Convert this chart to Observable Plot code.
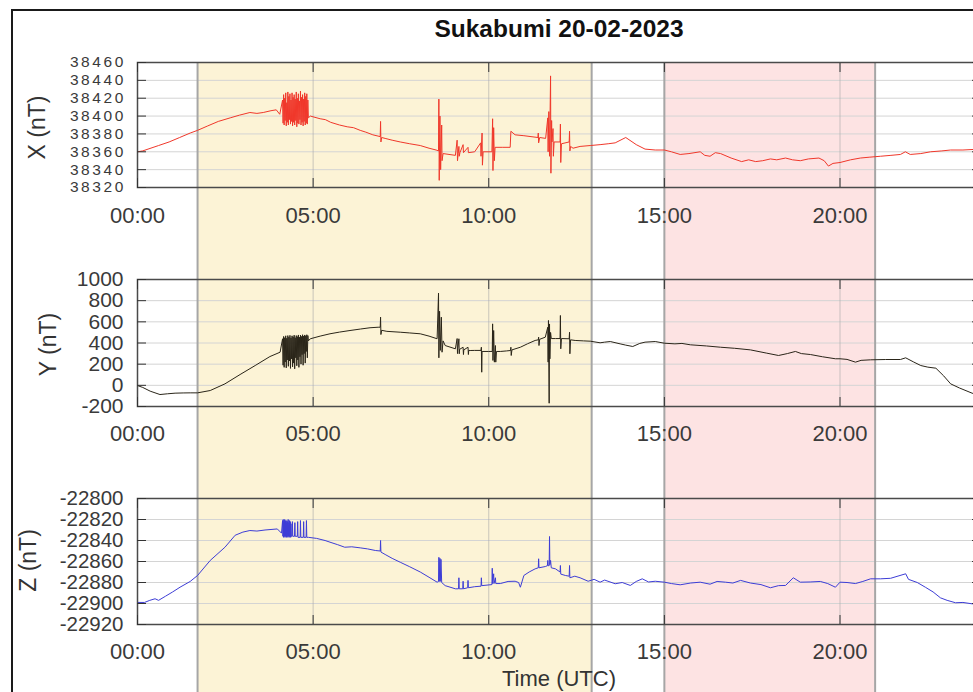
<!DOCTYPE html>
<html><head><meta charset="utf-8">
<script src="https://cdn.jsdelivr.net/npm/d3@7"></script>
<script src="https://cdn.jsdelivr.net/npm/@observablehq/plot@0.6"></script>
<style>
html,body{margin:0;padding:0;background:#fff;}
#wrap{position:relative;width:973px;height:692px;overflow:hidden;background:#fff;}
#wrap svg{display:block;max-width:none;}
#p0 [aria-label="y-axis tick label"] text{letter-spacing:2.6px;}
#border{position:absolute;left:11px;top:9px;right:-20px;bottom:-20px;border-left:2px solid #1a1a1a;border-top:2px solid #1a1a1a;pointer-events:none;z-index:5;}
</style></head><body>
<div id="wrap"><div id="border"></div></div>
<script>
const TITLE = "Sukabumi 20-02-2023";
const X_AXIS_LABEL = "Time (UTC)";
const TIME_TICKS = [0, 5, 10, 15, 20];
const X_TICKS = [38320, 38340, 38360, 38380, 38400, 38420, 38440, 38460];
const Y_TICKS = [-200, 0, 200, 400, 600, 800, 1000];
const Z_TICKS = [-22920, -22900, -22880, -22860, -22840, -22820, -22800];
const SHADES = [
  {start: 1.71, end: 12.93, fill: "#fcf3d6"},
  {start: 15.0, end: 21.0, fill: "#fde3e3"}
];

// [hour UTC, nT]
const X_FIELD = [[0,38360],[0.15,38361],[0.3,38363],[0.6,38367],[0.9,38371],[1.2,38376],[1.5,38381],[1.71,38384],[2.0,38389],[2.3,38394],[2.64,38398],[2.9,38401],[3.2,38404],[3.4,38403],[3.58,38404],[3.8,38406],[3.95,38407],[4.05,38402],
[4.13,38418],[4.145,38392],[4.16,38424],[4.175,38390],[4.19,38420],[4.205,38395],[4.22,38426],[4.235,38389],[4.25,38415],[4.265,38393],[4.28,38427],[4.295,38390],[4.31,38422],[4.325,38396],[4.34,38425],[4.355,38391],[4.37,38418],[4.385,38394],[4.40,38426],[4.415,38389],[4.43,38421],[4.445,38393],[4.46,38424],[4.475,38390],[4.49,38419],[4.505,38395],[4.52,38427],[4.535,38388],[4.55,38420],[4.565,38392],[4.58,38425],[4.595,38391],[4.61,38417],[4.625,38396],[4.64,38428],[4.655,38390],[4.67,38421],[4.685,38393],[4.70,38424],[4.715,38389],[4.73,38419],[4.745,38394],[4.76,38426],[4.775,38390],[4.79,38422],[4.805,38392],[4.82,38425],[4.835,38391],[4.85,38418],[4.865,38398],
[4.92,38400],[5.2,38397],[5.35,38396],[5.5,38393],[5.75,38390],[5.97,38388],[6.15,38387],[6.34,38384],[6.5,38382],[6.7,38379],[6.91,38377],[6.92,38394],[6.93,38371],[6.95,38376],[7.05,38375],[7.25,38373],[7.48,38371],[7.75,38369],[8.05,38367],[8.3,38364],[8.5,38362],[8.57,38361],[8.58,38419],[8.59,38328],[8.61,38400],[8.63,38340],[8.66,38390],[8.67,38350],[8.7,38358],[9.05,38356],[9.10,38373],[9.11,38350],[9.13,38358],[9.15,38366],[9.16,38355],[9.18,38359],[9.27,38368],[9.28,38359],[9.41,38365],[9.42,38359],[9.6,38360],[9.77,38370],[9.78,38355],[9.81,38381],[9.82,38345],[9.84,38360],[10.09,38360],[10.11,38397],[10.12,38339],[10.14,38387],[10.16,38350],[10.18,38365],[10.4,38365],[10.61,38365],[10.63,38383],[10.75,38379],[11.0,38378],[11.4,38376],[11.41,38381],[11.42,38370],[11.45,38376],[11.62,38375],[11.68,38398],[11.69,38360],[11.71,38405],[11.73,38355],[11.76,38445],[11.77,38336],[11.79,38395],[11.8,38371],[11.83,38386],[11.84,38355],[11.86,38371],[12.03,38371],[12.04,38391],[12.05,38348],[12.07,38369],[12.29,38371],[12.30,38383],[12.31,38361],[12.33,38366],[12.4,38364],[12.6,38366],[12.89,38367],[13.17,38368],[13.4,38369],[13.6,38370],[13.9,38376],[14.05,38372],[14.2,38368],[14.45,38363],[14.74,38362],[15.0,38362],[15.2,38360],[15.45,38357],[15.7,38358],[16.02,38360],[16.15,38356],[16.3,38355],[16.45,38359],[16.6,38358],[16.9,38353],[17.2,38349],[17.4,38351],[17.6,38349],[17.8,38350],[18.02,38352],[18.2,38351],[18.45,38353],[18.65,38351],[18.87,38350],[19.1,38352],[19.4,38353],[19.55,38350],[19.67,38344],[19.8,38347],[20.0,38348],[20.3,38351],[20.58,38353],[20.85,38354],[21.15,38355],[21.45,38356],[21.72,38357],[21.86,38360],[22.0,38357],[22.3,38358],[22.58,38360],[22.9,38361],[23.15,38362],[23.5,38362],[24,38363]];

const Y_FIELD = [[0,-2],[0.15,-20],[0.36,-55],[0.64,-87],[0.85,-80],[1.07,-74],[1.3,-72],[1.5,-71],[1.71,-71],[2.07,-49],[2.49,14],[2.92,102],[3.35,187],[3.77,272],[4.06,313],
[4.13,440],[4.145,190],[4.16,462],[4.175,170],[4.19,450],[4.205,220],[4.22,468],[4.235,165],[4.25,445],[4.265,240],[4.28,470],[4.295,180],[4.31,455],[4.325,230],[4.34,472],[4.355,160],[4.37,448],[4.385,250],[4.40,468],[4.415,175],[4.43,458],[4.445,210],[4.46,474],[4.475,156],[4.49,450],[4.505,260],[4.52,470],[4.535,185],[4.55,460],[4.565,240],[4.58,476],[4.595,170],[4.61,455],[4.625,270],[4.64,475],[4.655,200],[4.67,462],[4.685,290],[4.70,478],[4.715,190],[4.73,465],[4.745,300],[4.76,476],[4.775,210],[4.79,468],[4.805,320],[4.82,478],[4.835,260],[4.85,470],[4.865,420],
[4.92,440],[5.2,465],[5.48,487],[5.75,503],[6.05,518],[6.35,532],[6.62,544],[6.85,549],[6.91,549],[6.92,644],[6.93,480],[6.95,520],[7.1,510],[7.48,502],[7.75,495],[8.05,487],[8.3,465],[8.53,440],[8.57,871],[8.58,260],[8.6,700],[8.62,330],[8.65,644],[8.67,313],[8.7,420],[8.76,376],[9.05,345],[9.10,442],[9.11,300],[9.12,345],[9.15,440],[9.16,298],[9.17,340],[9.27,360],[9.28,291],[9.29,335],[9.41,360],[9.42,291],[9.43,330],[9.47,329],[9.6,330],[9.78,330],[9.79,360],[9.80,124],[9.81,320],[10.0,320],[10.10,320],[10.11,581],[10.12,235],[10.14,518],[10.16,219],[10.19,376],[10.2,219],[10.22,320],[10.33,320],[10.5,325],[10.62,329],[10.63,360],[10.64,282],[10.66,335],[10.9,360],[11.1,392],[11.32,424],[11.41,430],[11.42,455],[11.43,376],[11.45,435],[11.61,455],[11.68,549],[11.69,219],[11.70,613],[11.72,-169],[11.73,580],[11.74,250],[11.76,500],[11.78,442],[11.9,442],[12.03,442],[12.04,660],[12.05,345],[12.07,442],[12.29,440],[12.30,502],[12.31,298],[12.33,430],[12.46,424],[12.7,420],[12.89,417],[13.17,402],[13.3,408],[13.46,414],[13.74,392],[13.9,380],[14.1,367],[14.3,396],[14.45,408],[14.74,414],[15.0,398],[15.3,392],[15.5,396],[15.74,383],[16.2,372],[16.6,360],[17.0,350],[17.45,335],[17.9,305],[18.25,282],[18.5,300],[18.73,320],[18.9,300],[19.16,291],[19.5,270],[19.87,251],[20.0,251],[20.2,245],[20.44,219],[20.6,236],[20.87,241],[21.3,244],[21.72,244],[21.87,260],[22.1,220],[22.3,187],[22.5,172],[22.73,162],[22.95,90],[23.15,14],[23.4,-25],[23.76,-74],[24,-100]];

const Z_FIELD = [[0,-22899],[0.2,-22899],[0.35,-22897],[0.5,-22895.5],[0.6,-22897],[0.8,-22893],[1.0,-22889],[1.21,-22884.5],[1.5,-22879],[1.71,-22873.3],[2.07,-22859],[2.49,-22846.4],[2.78,-22835],[3.0,-22832],[3.2,-22830.5],[3.4,-22831],[3.63,-22830],[3.98,-22829],[4.1,-22833],
[4.13,-22821],[4.14,-22836],[4.15,-22820],[4.16,-22837],[4.17,-22822],[4.18,-22836],[4.19,-22820],[4.20,-22837],[4.21,-22821],[4.22,-22836],[4.23,-22823],[4.24,-22837],[4.25,-22821],[4.26,-22836],[4.27,-22822],[4.28,-22837],[4.29,-22820],[4.30,-22836],[4.31,-22823],[4.32,-22837],[4.33,-22821],[4.34,-22836],[4.35,-22822],[4.36,-22837],[4.37,-22824],[4.38,-22836],[4.40,-22836],[4.41,-22822],[4.42,-22836],[4.47,-22836],[4.48,-22823],[4.49,-22836],[4.55,-22836],[4.56,-22822],[4.57,-22837],[4.63,-22837],[4.64,-22821],[4.65,-22837],[4.72,-22837],[4.73,-22822],[4.74,-22837],[4.80,-22837],[4.81,-22821],[4.82,-22837],[4.87,-22837],
[5.1,-22838],[5.34,-22840],[5.48,-22841.6],[5.7,-22844],[5.9,-22846.4],[6.1,-22846],[6.34,-22847],[6.55,-22848],[6.77,-22849.5],[6.91,-22850],[6.92,-22840],[6.93,-22851],[7.05,-22853.3],[7.25,-22857],[7.48,-22860.7],[7.75,-22865],[8.05,-22870],[8.3,-22875],[8.53,-22879.7],[8.57,-22879],[8.58,-22856],[8.59,-22879],[8.61,-22857],[8.62,-22879],[8.64,-22858],[8.66,-22880],[8.76,-22883],[9.05,-22886],[9.14,-22886],[9.15,-22875.5],[9.16,-22886],[9.26,-22886],[9.27,-22878.8],[9.28,-22886],[9.40,-22885],[9.41,-22878],[9.42,-22885],[9.6,-22884],[9.78,-22883.5],[9.79,-22875.5],[9.80,-22883],[10.09,-22882],[10.10,-22866.4],[10.11,-22881],[10.14,-22871.7],[10.15,-22881],[10.19,-22875.5],[10.2,-22881],[10.33,-22881],[10.55,-22879],[10.75,-22878.8],[10.85,-22880],[10.9,-22884.5],[11.0,-22873.3],[11.15,-22870],[11.32,-22867],[11.41,-22866],[11.42,-22857.4],[11.43,-22866],[11.61,-22864.8],[11.67,-22864],[11.68,-22859],[11.69,-22864],[11.72,-22864],[11.73,-22836.2],[11.74,-22863],[11.76,-22859],[11.78,-22866],[11.9,-22867],[12.03,-22870],[12.04,-22863.8],[12.05,-22872],[12.18,-22873.3],[12.29,-22874],[12.30,-22863.8],[12.31,-22875.5],[12.45,-22874],[12.6,-22875.5],[12.83,-22878.8],[13.0,-22877],[13.17,-22879.7],[13.3,-22877.7],[13.6,-22881.2],[13.8,-22880],[14.03,-22882.8],[14.2,-22879],[14.37,-22876.5],[14.55,-22879.5],[14.74,-22878.8],[15.0,-22879.7],[15.2,-22881],[15.45,-22882.2],[15.75,-22880.5],[16.02,-22879.7],[16.3,-22881.6],[16.5,-22879],[16.74,-22879.7],[16.95,-22880.5],[17.17,-22878],[17.45,-22880.5],[17.75,-22882],[18.02,-22885],[18.25,-22883],[18.45,-22882.8],[18.67,-22875.5],[18.87,-22879.7],[19.15,-22879.5],[19.44,-22879],[19.65,-22881],[19.87,-22884.5],[20.0,-22879.7],[20.2,-22880],[20.44,-22881],[20.65,-22879],[20.87,-22876.5],[21.15,-22876.5],[21.44,-22876],[21.87,-22871.7],[21.95,-22877],[22.2,-22880],[22.43,-22884.5],[22.65,-22889],[22.86,-22894.6],[23.05,-22897],[23.29,-22899.3],[23.5,-22899],[23.76,-22900.3],[24,-22900.5]];

const PANELS = [
  {data: X_FIELD, color: "#f0372a", ticks: X_TICKS, label: "X (nT)", labelDx: -100, labelDy: 2.5, height: 240, mt: 62, mb: 53, first: true, tickPad: 29, yFont: 15.5, yPad: 20.5},
  {data: Y_FIELD, color: "#2a2519", ticks: Y_TICKS, label: "Y (nT)", labelDx: -89, labelDy: 1.5, height: 220, mt: 39, mb: 54, tickPad: 28, yFont: 21, yPad: 23},
  {data: Z_FIELD, color: "#3d3dd6", ticks: Z_TICKS, label: "Z (nT)", labelDx: -109, labelDy: -1, height: 232, mt: 38, mb: 68, last: true, tickPad: 28, yFont: 20.5, yPad: 23}
];

const fmtTime = d => String(d).padStart(2, "0") + ":00";
const fmtNum = d => String(d);
const edges = SHADES.flatMap(d => [d.start, d.end]);
const FONT = "Liberation Sans, Arial, Helvetica, sans-serif";

const wrap = document.getElementById("wrap");
PANELS.forEach((p, i) => {
  const marks = [
    Plot.rect(SHADES, {x1: "start", x2: "end", fill: "fill", insetTop: p.first ? 0 : -p.mt, insetBottom: -p.mb}),
    Plot.gridY(p.ticks, {stroke: "#d4d4d4", strokeOpacity: 1, strokeWidth: 1}),
    Plot.gridX(TIME_TICKS.slice(1), {stroke: "#a8a8a8", strokeOpacity: 1, strokeWidth: 0.6}),
    Plot.ruleX(edges, {x: d => d, stroke: "#a6a6a6", strokeWidth: 2, insetTop: p.first ? 0 : -p.mt, insetBottom: -p.mb}),
    Plot.line(p.data, {x: d => d[0], y: d => d[1], stroke: p.color, strokeWidth: 1}),
    Plot.frame({stroke: "#4a4a4a", strokeWidth: 1.5}),
    Plot.axisY({anchor: "left", ticks: p.ticks, tickSize: -9, tickPadding: p.yPad, tickFormat: fmtNum, fontSize: p.yFont, label: null, stroke: "#333"}),
    Plot.axisY({anchor: "right", ticks: p.ticks, tickSize: -9, tickFormat: () => "", label: null, stroke: "#333"}),
    Plot.axisX({anchor: "bottom", ticks: TIME_TICKS, tickSize: -9, tickPadding: p.tickPad, tickFormat: fmtTime, fontSize: 22, label: null, stroke: "#333"}),
    Plot.axisX({anchor: "top", ticks: TIME_TICKS, tickSize: -9, tickFormat: () => "", label: null, stroke: "#333"}),
    Plot.text([p.label], {text: d => d, frameAnchor: "left", dx: p.labelDx, dy: p.labelDy, rotate: -90, textAnchor: "middle", lineAnchor: "middle", fontSize: 23, fill: "#333"})
  ];
  if (p.first) marks.push(Plot.text([TITLE], {text: d => d, frameAnchor: "top", dy: -33, lineAnchor: "middle", textAnchor: "middle", fontSize: 24.5, fontWeight: "bold", fill: "#111"}));
  if (p.last) marks.push(Plot.text([X_AXIS_LABEL], {text: d => d, frameAnchor: "bottom", dy: 46, lineAnchor: "top", textAnchor: "middle", fontSize: 22, fill: "#333"}));
  const chart = Plot.plot({
    width: 980, height: p.height,
    marginLeft: 137, marginRight: 0, marginTop: p.mt, marginBottom: p.mb,
    style: {fontFamily: FONT, color: "#3a3a3a", background: "transparent", overflow: "hidden"},
    x: {type: "linear", domain: [0, 24], axis: null},
    y: {domain: [p.ticks[0], p.ticks[p.ticks.length - 1]], axis: null},
    marks
  });
  chart.id = "p" + i;
  wrap.appendChild(chart);
});
</script>
</body></html>
